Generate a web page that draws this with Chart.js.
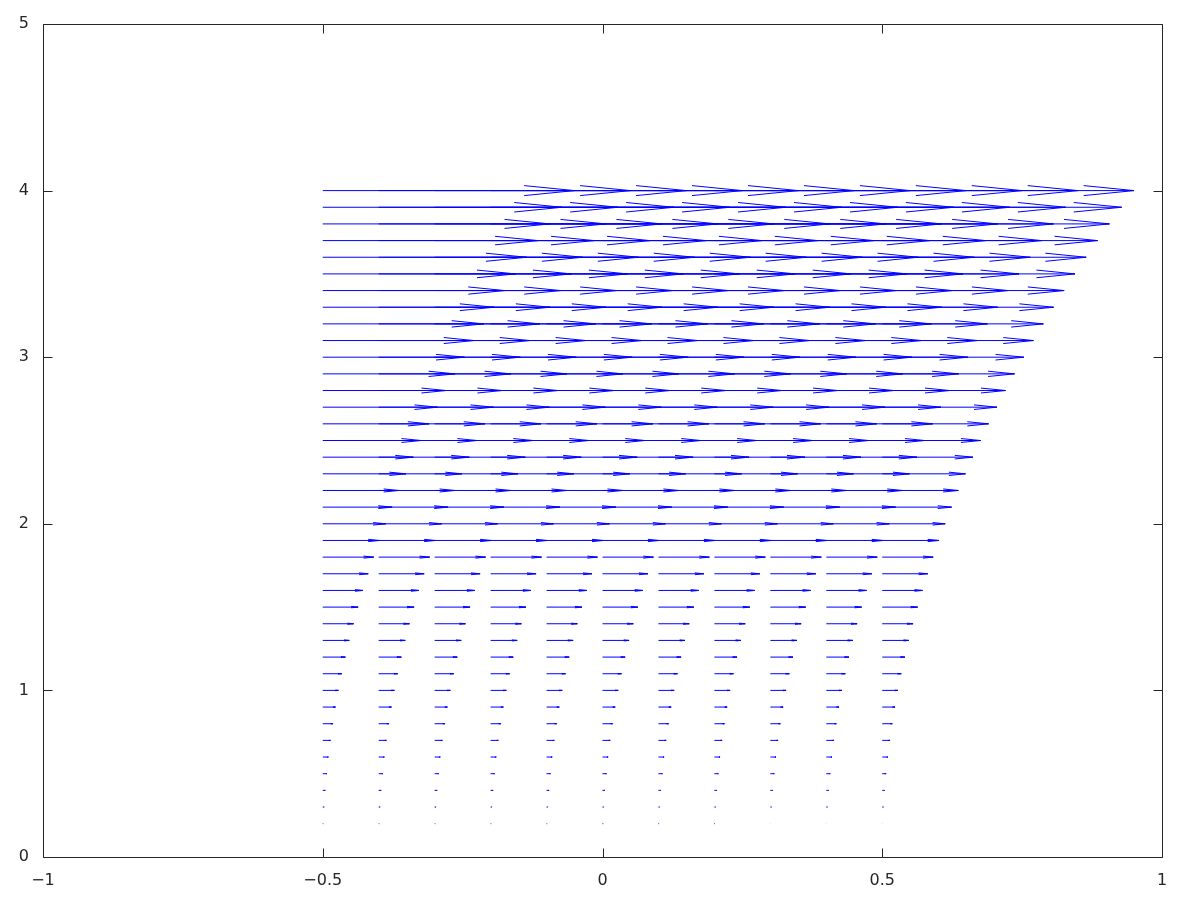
<!DOCTYPE html>
<html>
<head>
<meta charset="utf-8">
<script src="https://cdn.jsdelivr.net/npm/chart.js@4/dist/chart.umd.min.js"></script>
<style>
  body { margin: 0; background: #fff; }
  #wrap { width: 1200px; height: 900px; position: relative; }
</style>
</head>
<body>
<div id="wrap"><canvas id="quiver"></canvas></div>
<script>
  // grid of arrow origins
  var xGrid = [-0.5, -0.4, -0.3, -0.2, -0.1, 0, 0.1, 0.2, 0.3, 0.4, 0.5];
  var yGrid = [0.1, 0.2, 0.3, 0.4, 0.5, 0.6, 0.7, 0.8, 0.9, 1.0,
    1.1, 1.2, 1.3, 1.4, 1.5, 1.6, 1.7, 1.8, 1.9, 2.0,
    2.1, 2.2, 2.3, 2.4, 2.5, 2.6, 2.7, 2.8, 2.9, 3.0,
    3.1, 3.2, 3.3, 3.4, 3.5, 3.6, 3.7, 3.8, 3.9, 4.0];
  // horizontal arrow length per row (same for every column)
  var uRow = [0.0003, 0.0011, 0.0025, 0.0045, 0.007, 0.0101, 0.0138, 0.018, 0.0228, 0.0281,
    0.034, 0.0405, 0.0475, 0.0551, 0.0633, 0.072, 0.0813, 0.0911, 0.1015, 0.1125,
    0.124, 0.1361, 0.1488, 0.162, 0.1758, 0.1901, 0.205, 0.2205, 0.2365, 0.2531,
    0.2703, 0.288, 0.3063, 0.3251, 0.3445, 0.3645, 0.385, 0.4061, 0.4278, 0.45];
  var xTicks = [-1, -0.5, 0, 0.5, 1];
  var xTickLabels = ['\u22121', '\u22120.5', '0', '0.5', '1'];
  var yTicks = [0, 1, 2, 3, 4, 5];
  var yTickLabels = ['0', '1', '2', '3', '4', '5'];

  var arrowSize = 0.2;
  var gap = { x: null, y: null };

  var stems = [];
  var heads = [];
  yGrid.forEach(function (y, j) {
    var u = uRow[j];
    xGrid.forEach(function (x) {
      var tip = x + u;
      var back = x + u * (1 - arrowSize);
      var w = u * arrowSize / 3;
      stems.push({ x: x, y: y }, { x: tip, y: y }, gap);
      heads.push({ x: back, y: y + w }, { x: tip, y: y }, { x: back, y: y - w }, gap);
    });
  });

  var frameTicks = {
    id: 'frameTicks',
    afterDraw: function (chart) {
      var ctx = chart.ctx;
      var a = chart.chartArea;
      var xs = chart.scales.x, ys = chart.scales.y;
      var L = Math.round(a.left) + 0.5, R = Math.round(a.right) + 0.5;
      var T = Math.round(a.top) + 0.5, B = Math.round(a.bottom) + 0.5;
      var len = 9;
      ctx.save();
      ctx.strokeStyle = '#262626';
      ctx.lineWidth = 1;
      ctx.beginPath();
      ctx.rect(L, T, R - L, B - T);
      xTicks.forEach(function (v) {
        var px = Math.round(xs.getPixelForValue(v)) + 0.5;
        ctx.moveTo(px, B); ctx.lineTo(px, B - len);
        ctx.moveTo(px, T); ctx.lineTo(px, T + len);
      });
      yTicks.forEach(function (v) {
        var py = Math.round(ys.getPixelForValue(v)) + 0.5;
        ctx.moveTo(L, py); ctx.lineTo(L + len, py);
        ctx.moveTo(R, py); ctx.lineTo(R - len, py);
      });
      ctx.stroke();
      ctx.restore();
    }
  };

  var ctxQuiver = document.getElementById('quiver').getContext('2d');
  var quiverChart = new Chart(ctxQuiver, {
    type: 'scatter',
    data: {
      datasets: [
        {
          data: stems,
          showLine: true,
          spanGaps: false,
          borderColor: '#0000ff',
          borderWidth: 1,
          pointRadius: 0,
          tension: 0
        },
        {
          data: heads,
          showLine: true,
          spanGaps: false,
          borderColor: '#0000ff',
          borderWidth: 1,
          pointRadius: 0,
          tension: 0
        }
      ]
    },
    options: {
      responsive: true,
      maintainAspectRatio: false,
      animation: false,
      layout: {
        padding: { top: 24, right: 38, left: 0, bottom: 0 }
      },
      scales: {
        x: {
          type: 'linear',
          min: -1,
          max: 1,
          afterFit: function (scale) { scale.height = 43; },
          afterBuildTicks: function (scale) {
            scale.ticks = xTicks.map(function (v) { return { value: v }; });
          },
          grid: { display: false, drawTicks: false },
          border: { display: false },
          ticks: {
            padding: 14,
            color: '#262626',
            font: { family: '"DejaVu Sans", sans-serif', size: 16 },
            maxRotation: 0,
            callback: function (value) {
              return xTickLabels[xTicks.indexOf(value)];
            }
          }
        },
        y: {
          type: 'linear',
          min: 0,
          max: 5,
          afterFit: function (scale) { scale.width = 43; },
          afterBuildTicks: function (scale) {
            scale.ticks = yTicks.map(function (v) { return { value: v }; });
          },
          grid: { display: false, drawTicks: false },
          border: { display: false },
          ticks: {
            padding: 14,
            color: '#262626',
            font: { family: '"DejaVu Sans", sans-serif', size: 16 },
            callback: function (value) {
              return yTickLabels[yTicks.indexOf(value)];
            }
          }
        }
      },
      plugins: {
        legend: { display: false },
        tooltip: { enabled: false }
      }
    },
    plugins: [frameTicks]
  });
</script>
</body>
</html>
